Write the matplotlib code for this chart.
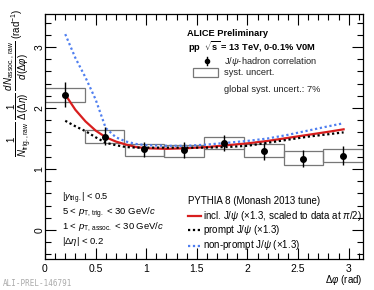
import numpy as np
import matplotlib
matplotlib.use("Agg")
import matplotlib.pyplot as plt
from matplotlib.patches import Rectangle
from matplotlib.ticker import MultipleLocator, FuncFormatter
from matplotlib.lines import Line2D

plt.rcParams['font.family'] = ['Liberation Sans', 'DejaVu Sans']
plt.rcParams['mathtext.fontset'] = 'custom'
plt.rcParams['mathtext.rm'] = 'Liberation Sans'
plt.rcParams['mathtext.it'] = 'Liberation Sans:italic'
plt.rcParams['mathtext.bf'] = 'Liberation Sans:bold'

# data
dphi = [0.196, 0.589, 0.982, 1.374, 1.767, 2.160, 2.553, 2.945]
bin_width = 0.3927
corr = [2.22, 1.53, 1.32, 1.31, 1.43, 1.30, 1.17, 1.22]
stat_lo = [0.21, 0.14, 0.13, 0.13, 0.13, 0.15, 0.14, 0.15]
stat_hi = [0.20, 0.15, 0.13, 0.13, 0.13, 0.13, 0.14, 0.15]
syst_lo = [2.10, 1.42, 1.22, 1.20, 1.32, 1.19, 1.07, 1.12]
syst_hi = [2.33, 1.64, 1.41, 1.40, 1.53, 1.41, 1.29, 1.32]

curve_x = [0.2, 0.3, 0.4, 0.5, 0.6, 0.7, 0.8, 0.9, 1.0, 1.2, 1.4, 1.6, 1.8, 2.0, 2.2, 2.4, 2.6, 2.8, 2.95]
incl = [2.22, 1.97, 1.78, 1.63, 1.52, 1.45, 1.40, 1.36, 1.34, 1.33, 1.34, 1.36, 1.39, 1.42, 1.46, 1.51, 1.56, 1.61, 1.65]
prompt = [1.79, 1.70, 1.62, 1.52, 1.43, 1.39, 1.36, 1.35, 1.35, 1.35, 1.35, 1.35, 1.36, 1.38, 1.43, 1.48, 1.53, 1.57, 1.60]
nonprompt = [3.21, 2.82, 2.50, 2.14, 1.67, 1.52, 1.45, 1.41, 1.39, 1.38, 1.38, 1.40, 1.43, 1.46, 1.50, 1.56, 1.63, 1.70, 1.75]

fig = plt.figure(figsize=(3.74, 2.90), dpi=100)
ax = fig.add_axes([45/374, 1-259/290, (363-45)/374, (259-14)/290])
ax.set_xlim(0, np.pi)
ax.set_ylim(-0.475, 3.54)

for x, lo, hi in zip(dphi, syst_lo, syst_hi):
    ax.add_patch(Rectangle((x - bin_width/2, lo), bin_width, hi - lo,
                           fill=False, edgecolor='#777777', lw=0.9, zorder=2))

ax.plot(curve_x, incl, color='#d81e1e', lw=1.6, zorder=3)
ax.plot(curve_x, prompt, color='black', lw=1.6, ls=(0, (1, 1.2)), zorder=3)
ax.plot(curve_x, nonprompt, color='#4f7ff0', lw=1.6, ls=(0, (1, 1.2)), zorder=3)

ax.errorbar(dphi, corr, yerr=[stat_lo, stat_hi], fmt='o', color='black',
            ms=4, elinewidth=1, capsize=0, zorder=4)

fmt = FuncFormatter(lambda v, p: ('%g' % round(v, 3)))
ax.xaxis.set_major_formatter(fmt)
ax.yaxis.set_major_formatter(fmt)
ax.xaxis.set_major_locator(MultipleLocator(0.5))
ax.xaxis.set_minor_locator(MultipleLocator(0.1))
ax.yaxis.set_major_locator(MultipleLocator(1))
ax.yaxis.set_minor_locator(MultipleLocator(0.2))
ax.tick_params(which='both', direction='in', top=True, right=True, labelsize=7.5, width=0.8)
ax.tick_params(which='major', length=8)
ax.tick_params(which='minor', length=4)
ax.tick_params(axis='y', labelrotation=90, pad=0.5)
for lab in ax.get_yticklabels():
    lab.set_va('center')
for s in ax.spines.values():
    s.set_linewidth(0.9)

fig.text(363/374, 1-280/290, r'$\Delta\varphi$ (rad)', ha='right', va='center', fontsize=7)
fig.text(18/374, 1-9/290,
         r'$\dfrac{1}{N_{\rm trig.,raw}}\ \dfrac{1}{\Delta(\Delta\eta)}\ \dfrac{dN_{\rm assoc.,raw}}{d(\Delta\varphi)}$ (rad$^{-1}$)',
         rotation=90, ha='center', va='top', fontsize=7)
fig.text(3/374, 1-284/290, 'ALI-PREL-146791', family='DejaVu Sans Mono', color='#aaaaaa',
         fontsize=5.5, ha='left', va='center')

def t(xp, yp, s, size=6.7, **kw):
    fig.text(xp/374, 1-yp/290, s, ha='left', va='center', fontsize=size, **kw)

t(187, 33, 'ALICE Preliminary', weight='bold')
t(188, 47, r'pp  $\sqrt{\bf s}$ = 13 TeV, 0-0.1% V0M', weight='bold')
fig.add_artist(Line2D([206.7/374]*2, [1-57/290, 1-65/290], color='black', lw=1))
fig.add_artist(Line2D([206.7/374], [1-61/290], marker='o', color='black', ms=3))
t(224, 61, r'J/$\psi$-hadron correlation', color='#222222')
fig.add_artist(Rectangle((192.7/374, 1-77.3/290), 25.6/374, 9/290, fill=False,
                         edgecolor='#777777', lw=0.9, transform=fig.transFigure))
t(224, 73, 'syst. uncert.', color='#222222')
t(224, 90, 'global syst. uncert.: 7%', color='#222222')

t(62, 198, r'$|y_{\rm trig.}|$ < 0.5', size=6.7)
t(62, 213.5, r'5 < $p_{\rm T,\,trig.}$ < 30 GeV/$c$', size=6.8)
t(62, 227.5, r'1 < $p_{\rm T,\,assoc.}$ < 30 GeV/$c$', size=6.8)
t(62, 241, r'$|\Delta\eta|$ < 0.2', size=6.8)

t(188, 201, 'PYTHIA 8 (Monash 2013 tune)', size=7)
fig.add_artist(Line2D([188/374, 201/374], [1-216/290]*2, color='#d81e1e', lw=1.6))
fig.add_artist(Line2D([188/374, 201/374], [1-230/290]*2, color='black', lw=1.6, ls=(0, (1, 1.2))))
fig.add_artist(Line2D([188/374, 201/374], [1-245.5/290]*2, color='#4f7ff0', lw=1.6, ls=(0, (1, 1.2))))
t(203, 216, r'incl. J/$\psi$ ($\times$1.3, scaled to data at $\pi$/2)', size=7)
t(203, 230, r'prompt J/$\psi$ ($\times$1.3)', size=7)
t(203, 245.5, r'non-prompt J/$\psi$ ($\times$1.3)', size=7)

fig.savefig('out.png', dpi=100)
